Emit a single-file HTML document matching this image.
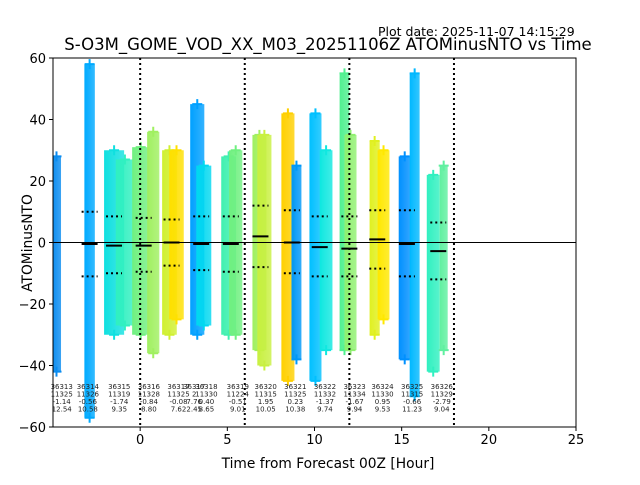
<!DOCTYPE html>
<html><head><meta charset="utf-8"><style>
body{margin:0;background:#fff;}
svg text{font-family:"DejaVu Sans","Liberation Sans",sans-serif;}
</style></head><body>
<svg id="chart" width="640" height="480" xmlns="http://www.w3.org/2000/svg">
<text x="378" y="36" font-size="12.5">Plot date: 2025-11-07 14:15:29</text>
<text x="328" y="50" font-size="16.5" text-anchor="middle">S-O3M_GOME_VOD_XX_M03_20251106Z ATOMinusNTO vs Time</text>
<text x="328" y="468" font-size="13.8" text-anchor="middle">Time from Forecast 00Z [Hour]</text>
<text transform="translate(32,243) rotate(-90)" font-size="13.8" text-anchor="middle">ATOMinusNTO</text>
<g id="plot"></g>
</svg>
<script>
const stripStart=[-5.06,-3.2,-2.07,-1.4,-0.46,0.4,1.26,1.67,2.87,3.22,4.65,5.1,6.44,6.72,8.1,8.68,9.71,10.3,11.44,11.72,13.16,13.62,14.83,15.46,16.44,17.18];
const stripEnd=[-4.54,-2.6,-0.92,-0.35,0.52,1.1,2.1,2.5,3.68,4.08,5.5,5.86,7.24,7.53,8.85,9.25,10.4,11.03,12.0,12.41,13.74,14.3,15.52,16.03,17.18,17.64];
const stripLow=[-42,-57,-30,-27,-30,-36,-30,-25,-30,-27,-30,-30,-35,-40,-45,-38,-45,-35,-35,-35,-30,-25,-38,-50,-42,-35];
const stripHigh=[28,58,30,27,31,36,30,30,45,25,28,30,35,35,42,25,42,30,55,35,33,30,28,55,22,25];
const stripColor=["#0a8cf0","#00aaff","#10e0e0","#30f0c0","#70f080","#a0f060","#d0f030","#ffe000","#00a0ff","#00d8f0","#40f0b0","#70f080","#a0f060","#c8f040","#ffd000","#0098f8","#00c0ff","#10e8e0","#50f090","#90f070","#e0f020","#ffe800","#0090ff","#00b8ff","#30f0c0","#60f0a0"];
const meanTime=[-2.9,-1.5,0.2,1.8,3.5,5.2,6.9,8.7,10.3,12.0,13.6,15.3,17.1];
const meanVal=[-0.5,-1,-1,0,-0.5,-0.5,2,0,-1.5,-2,1,-0.5,-2.8];
const upperVal=[10,8.5,8,7.5,8.5,8.5,12,10.5,8.5,8.5,10.5,10.5,6.5];
const lowerVal=[-11,-10,-9.5,-7.5,-9,-9.5,-8,-10,-11,-11,-8.5,-11,-12];
const orbitLabels=["36313","36314","36315","36316","36317","36317","36318","36319","36320","36321","36322","36323","36324","36325","36326"];
const labelTime=[-4.5,-3.0,-1.2,0.5,2.2,3.1,3.8,5.6,7.2,8.9,10.6,12.3,13.9,15.6,17.3];
const labelN=["11325","11326","11319","11328","11325","2","11330","11224","11315","11325","11332","11334","11330","11315","11329"];
const labelMean=["-1.14","-0.56","-1.74","-0.84","-0.08","7.76","0.40","-0.51","1.95","0.23","-1.37","-1.67","0.95","-0.66","-2.79"];
const labelStd=["12.54","10.58","9.35","8.80","7.62","2.45","8.65","9.01","10.05","10.38","9.74","9.94","9.53","11.23","9.04"];
const vlineTimes=[0,6,12,18];
const xTicks=[0,5,10,15,20,25];
const yTicks=[-60,-40,-20,0,20,40,60];

const X0=53,X1=576,Y0=58,Y1=427,xmin=-5,xmax=25,ymin=-60,ymax=60;
const xs=v=>X0+(v-xmin)/(xmax-xmin)*(X1-X0);
const ys=v=>Y1-(v-ymin)/(ymax-ymin)*(Y1-Y0);
const NS="http://www.w3.org/2000/svg";
const g=document.getElementById('plot');
function mk(t,a,p){const e=document.createElementNS(NS,t);for(const k in a)e.setAttribute(k,a[k]);(p||g).appendChild(e);return e;}
const defs=mk('defs',{});
const clip=mk('clipPath',{id:'clip'},defs);mk('rect',{x:X0,y:Y0,width:X1-X0,height:Y1-Y0},clip);
const pg=mk('g',{'clip-path':'url(#clip)'});
stripStart.forEach((s,i)=>{
  const gr=mk('linearGradient',{id:'gr'+i,x1:0,y1:0,x2:1,y2:0},defs);
  mk('stop',{offset:0,'stop-color':stripColor[i]},gr);
  mk('stop',{offset:1,'stop-color':stripColor[i],'stop-opacity':0.8},gr);
  const r=mk('rect',{x:xs(s),y:ys(stripHigh[i]),width:xs(stripEnd[i])-xs(s),height:ys(stripLow[i])-ys(stripHigh[i]),fill:'url(#gr'+i+')'},pg);
  
  
  const c=(xs(s)+xs(stripEnd[i]))/2;
  [stripHigh[i],stripLow[i]].forEach(v=>{
    const p=mk('path',{d:`M${c-5},${ys(v)}h10M${c},${ys(v)-5}v10`,stroke:stripColor[i],'stroke-width':2},pg);
    
    
  });
});
const zl=mk('line',{x1:X0,x2:X1,y1:ys(0),y2:ys(0),stroke:'#000','stroke-width':1});


vlineTimes.forEach(t=>{
  const l=mk('line',{x1:xs(t),x2:xs(t),y1:Y0,y2:Y1,stroke:'#000','stroke-width':2,'stroke-dasharray':'2,3'});
  
  
});
meanTime.forEach((t,i)=>{
  const c=xs(t);
  const m=mk('line',{x1:c-8,x2:c+8,y1:ys(meanVal[i]),y2:ys(meanVal[i]),stroke:'#000','stroke-width':2});
  
  
  [upperVal[i],lowerVal[i]].forEach(v=>{
    const d=mk('line',{x1:c-8,x2:c+8,y1:ys(v),y2:ys(v),stroke:'#000','stroke-width':2,'stroke-dasharray':'2,3'});
    
    
  });
});
orbitLabels.forEach((o,i)=>{
  const t=mk('text',{x:xs(labelTime[i]),y:389,'font-size':7,'text-anchor':'middle',fill:'#222'});
  
  
  [o,labelN[i],labelMean[i],labelStd[i]].forEach((s,k)=>{const ts=mk('tspan',{x:xs(labelTime[i]),dy:k?7.5:0},t);ts.textContent=s;});
});
const fr=mk('rect',{x:X0,y:Y0,width:X1-X0,height:Y1-Y0,fill:'none',stroke:'#000','stroke-width':1});


xTicks.forEach(v=>{
  mk('line',{x1:xs(v),x2:xs(v),y1:Y1,y2:Y1+4,stroke:'#000'});
  const t=mk('text',{x:xs(v),y:Y1+17,'font-size':13,'text-anchor':'middle'});
  
  
  t.textContent=v;
});
yTicks.forEach(v=>{
  mk('line',{x1:X0-4,x2:X0,y1:ys(v),y2:ys(v),stroke:'#000'});
  const t=mk('text',{x:X0-7,y:ys(v)+5,'font-size':13,'text-anchor':'end'});
  
  
  t.textContent=v<0?'\u2212'+(-v):v;
});
</script>
</body></html>
